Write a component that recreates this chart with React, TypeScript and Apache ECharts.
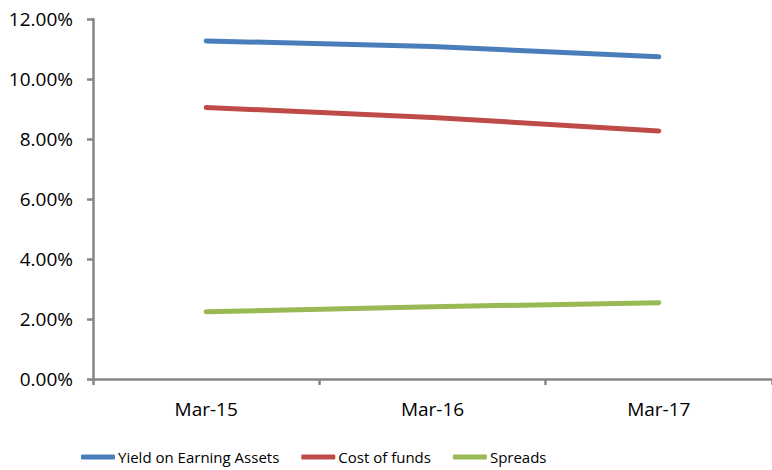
import React, { useEffect, useRef } from "react";
import * as echarts from "echarts";

const categories = ["Mar-15", "Mar-16", "Mar-17"];
const yieldOnEarningAssets = [11.27, 11.08, 10.74];
const costOfFunds = [9.05, 8.72, 8.27];
const spreads = [2.24, 2.41, 2.54];
const seriesNames = ["Yield on Earning Assets", "Cost of funds", "Spreads"];
const seriesColors = ["#4A7EBB", "#BE4B48", "#98B954"];

const FONT = "'Open Sans', 'Noto Sans', sans-serif";

export default function App() {
  const ref = useRef<HTMLDivElement>(null);
  useEffect(() => {
    if (!ref.current) return;
    const chart = echarts.init(ref.current, undefined, { renderer: "svg" });
    const values = [yieldOnEarningAssets, costOfFunds, spreads];
    chart.setOption({
      animation: false,
      backgroundColor: "#ffffff",
      grid: { left: 93, right: -8, top: 19, bottom: 91, containLabel: false },
      legend: {
        left: 81,
        top: 447,
        padding: 0,
        itemGap: 22,
        itemWidth: 34,
        itemHeight: 5,
        icon: "roundRect",
        data: seriesNames,
        textStyle: {
          fontFamily: FONT,
          fontSize: 15,
          color: "#000",
          lineHeight: 20,
          padding: [0, 0, 0, -2],
        },
      },
      xAxis: {
        type: "category",
        data: categories,
        boundaryGap: true,
        axisLine: { show: true, lineStyle: { color: "#868686", width: 2.5 } },
        axisTick: { show: true, length: 6, lineStyle: { color: "#868686", width: 2.5 } },
        axisLabel: { fontFamily: FONT, fontSize: 19, color: "#000", margin: 20 },
        splitLine: { show: false },
      },
      yAxis: {
        type: "value",
        min: 0,
        max: 12,
        interval: 2,
        axisLine: { show: true, lineStyle: { color: "#868686", width: 2.5 } },
        axisTick: { show: true, length: 6, lineStyle: { color: "#868686", width: 2.5 } },
        axisLabel: {
          fontFamily: FONT,
          fontSize: 19,
          color: "#000",
          margin: 20,
          formatter: (v: number) => v.toFixed(2) + "%",
        },
        splitLine: { show: false },
      },
      series: seriesNames.map((name, i) => ({
        name,
        type: "line",
        data: values[i],
        symbol: "none",
        showSymbol: false,
        color: seriesColors[i],
        lineStyle: { color: seriesColors[i], width: 5, cap: "round", join: "round" },
        itemStyle: { color: seriesColors[i] },
      })),
    });
    return () => chart.dispose();
  }, []);
  return (
    <div
      ref={ref}
      style={{ position: "fixed", left: 0, top: 0, width: 772, height: 470, overflow: "hidden" }}
    />
  );
}
